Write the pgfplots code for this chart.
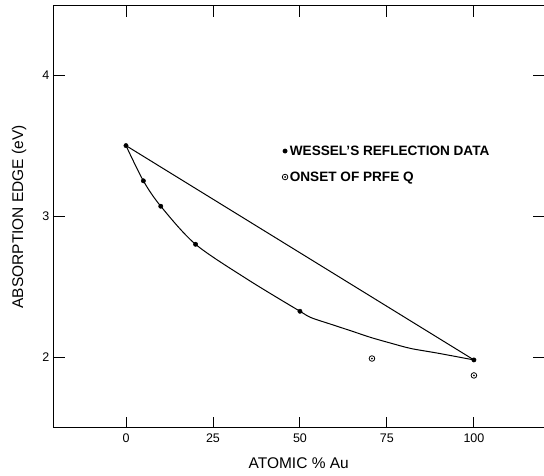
\documentclass[border=0pt]{standalone}
\usepackage{fontspec}
\setmainfont{Liberation Sans}
\usepackage{pgfplots}
\pgfplotsset{compat=1.18}

% ring with a dot in the middle
\pgfdeclareplotmark{ringdot}{%
  \pgfpathcircle{\pgfpoint{0pt}{0pt}}{\pgfplotmarksize}\pgfusepathqstroke
  \pgfpathcircle{\pgfpoint{0pt}{0pt}}{0.35\pgfplotmarksize}\pgfusepathqfill}

\begin{document}
\begin{tikzpicture}
\begin{axis}[width=490pt,height=422pt,scale only axis,
 xmin=-20.7,xmax=120,ymin=1.5,ymax=4.49,
 xtick={0,25,50,75,100},ytick={2,3,4},
 tick align=inside,major tick length=11pt,minor tick num=0,
 tick style={black,line width=0.9pt},
 axis line style={draw=none},
 /pgf/number format/assume math mode=true,
 ticklabel style={font=\fontsize{12.5}{12.5}\selectfont},
 xticklabel style={yshift=-3pt},
 yticklabel style={xshift=-1pt},
 xlabel={ATOMIC \% Au},ylabel={ABSORPTION EDGE (eV)},
 label style={font=\fontsize{15.5}{15.5}\selectfont},
 xlabel style={at={(axis description cs:0.5,0)},anchor=north,yshift=-27pt},
 ylabel style={at={(axis description cs:0,0.5)},anchor=south,yshift=24pt},
 clip=false,
 legend style={at={(axis cs:44,3.53)},anchor=north west,draw=none,fill=none,
   font=\fontsize{13.6}{13.6}\selectfont\bfseries,row sep=11pt,
   /tikz/every even column/.append style={column sep=4pt}},
 legend cell align=left]
 % frame: left, bottom and top only
 \draw[line width=1pt] (rel axis cs:1,1) -- (rel axis cs:0,1) -- (rel axis cs:0,0) -- (rel axis cs:1,0);
 % curve through the reflection data
 \addplot[black,line width=1pt,smooth,forget plot] coordinates {
  (0,3.50) (5,3.25) (10,3.07) (20,2.80) (35,2.55) (50,2.325) (53.2,2.28) (58.9,2.233)
  (64.7,2.186) (70.4,2.139) (76.1,2.099) (81.9,2.061) (89.6,2.028) (100,1.98)};
 % straight line
 \addplot[black,line width=1pt,forget plot] coordinates {(0,3.50) (100,1.98)};
 \addplot[only marks,mark=*,mark size=2.2pt,black] coordinates {
  (0,3.50) (5,3.25) (10,3.07) (20,2.80) (50,2.325) (100,1.98)};
 \addlegendentry{WESSEL'S REFLECTION DATA}
 \addplot[only marks,mark=ringdot,mark size=2.8pt,black,line width=0.8pt] coordinates {
  (70.7,1.99) (100,1.87)};
 \addlegendentry{ONSET OF PRFE Q}
\end{axis}
\path (current axis.south west) ++(-54pt,-48pt) (current axis.north east) ++(0pt,6pt);
\end{tikzpicture}
\end{document}
